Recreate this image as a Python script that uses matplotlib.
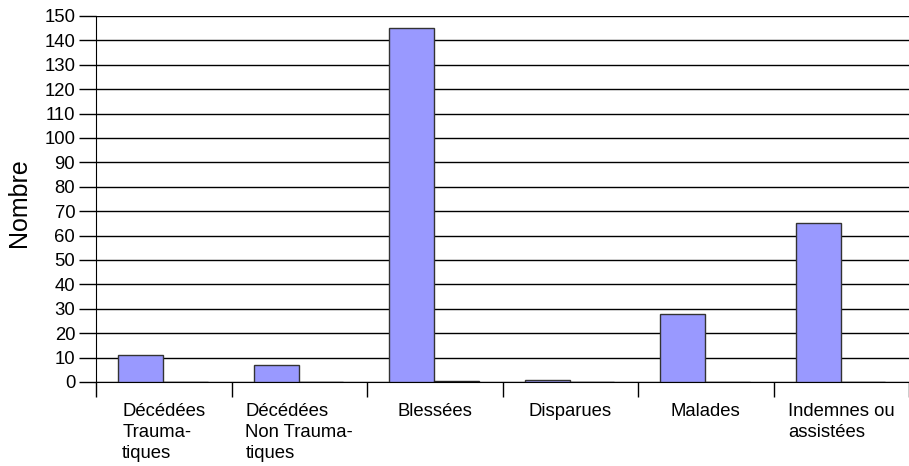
import numpy as np
import matplotlib
matplotlib.use("Agg")
import matplotlib.pyplot as plt

plt.rcParams['font.family'] = ['Liberation Sans', 'DejaVu Sans']

# data
categories = ["Décédées\nTrauma-\ntiques", "Décédées\nNon Trauma-\ntiques", "Blessées",
              "Disparues", "Malades", "Indemnes ou\nassistées"]
serie1 = [11, 7, 145, 1, 28, 65]
serie2 = [0.15, 0.15, 0.6, 0.15, 0.15, 0.15]

fig = plt.figure(figsize=(9.09, 4.66), dpi=100)
W, H = 909, 466
ax = fig.add_axes([96 / W, 1 - 382 / H, (W - 96) / W, (382 - 16) / H])

x = np.arange(len(categories))
ax.bar(x - 0.17, serie1, width=0.33, color="#9999FF", edgecolor="#333333", linewidth=1, zorder=3)
ax.bar(x + 0.16, serie2, width=0.33, color="#993366", edgecolor="#222222", linewidth=1, zorder=3)

ax.set_xlim(-0.5, -0.5 + (W - 96) / 137.3)
ax.set_ylim(0, 150)
ax.set_yticks(np.arange(0, 151, 10))
ax.yaxis.grid(True, color="black", linewidth=1)
ax.set_axisbelow(True)

# category labels at centres, tick marks at boundaries
ax.set_xticks(x)
ax.set_xticklabels(categories, multialignment="left", fontsize=13.3, linespacing=1.3)
ax.tick_params(axis="x", which="major", length=0, pad=15)
ax.set_xticks(np.arange(-0.5, len(categories), 1), minor=True)
ax.tick_params(axis="x", which="minor", length=11, width=1, color="black", direction="out")
ax.tick_params(axis="y", length=12, width=1, color="black", direction="out", labelsize=13.3, pad=3)

for s in ["top", "right"]:
    ax.spines[s].set_visible(False)
ax.spines["left"].set_color("black")
ax.spines["bottom"].set_color("black")

fig.text(19 / W, 1 - 203 / H, "Nombre", rotation=90, ha="center", va="center", fontsize=18)

fig.savefig("out.png", dpi=100)
